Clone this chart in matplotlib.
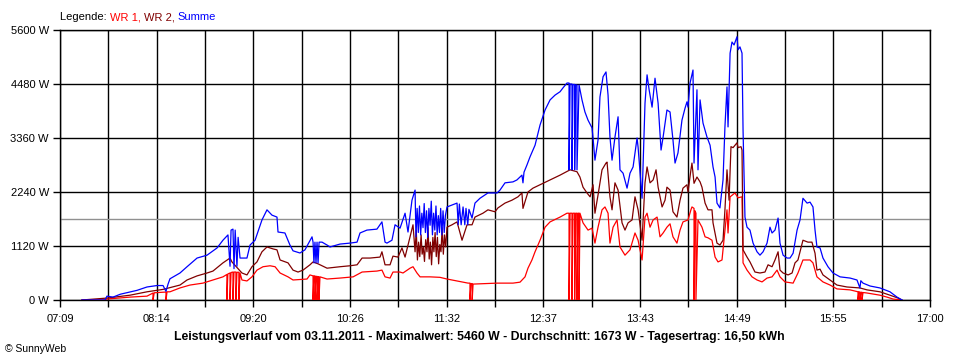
import numpy as np
import matplotlib
matplotlib.use("Agg")
import matplotlib.pyplot as plt

# ---------------- data (time in minutes since midnight, power in W) ----------------
x_tick_labels = ["07:09", "08:14", "09:20", "10:26", "11:32", "12:37", "13:43", "14:49", "15:55", "17:00"]
y_ticks = [0, 1120, 2240, 3360, 4480, 5600]
average_w = 1673

t_wr1 = [443.9, 459.6, 460.9, 476.6, 488.1, 492.2, 492.2, 493.0, 501.0, 501.0, 501.7, 503.7, 510.5, 517.3,
         526.1, 532.9, 539.7, 542.4, 542.4, 543.0, 544.5, 544.5, 545.2, 546.5, 546.5, 547.2, 548.5, 548.5,
         549.2, 550.5, 550.5, 551.3, 552.6, 556.0, 559.4, 562.8, 566.9, 571.7, 575.1, 578.5, 583.9, 587.3,
         596.8, 598.8, 600.9, 600.9, 601.5, 602.2, 602.2, 602.9, 603.6, 603.6, 604.3, 604.9, 604.9, 605.6,
         610.4, 619.2, 628.1, 634.2, 644.3, 647.7, 649.8, 653.2, 655.2, 660.0, 662.0, 666.8, 668.8, 671.5,
         673.6, 680.3, 687.1, 691.9, 698.7, 706.2, 707.5, 707.5, 708.2, 709.0, 709.0, 709.6, 725.9, 736.7,
         741.5, 744.9, 746.9, 749.6, 751.7, 753.7, 755.1, 758.5, 761.9, 768.7, 773.4, 774.8, 774.8, 775.5,
         776.8, 776.8, 777.5, 778.6, 778.6, 779.3, 780.2, 780.2, 780.9, 781.6, 781.6, 782.2, 784.3, 787.7,
         790.4, 792.4, 794.5, 797.2, 799.2, 801.3, 802.6, 804.7, 807.4, 809.4, 812.8, 816.2, 819.6, 821.7,
         824.4, 826.4, 827.8, 829.8, 831.9, 834.6, 836.6, 838.7, 841.3, 843.4, 845.4, 848.1, 850.2, 852.2,
         855.6, 857.6, 858.3, 859.7, 859.7, 860.3, 861.0, 861.0, 862.4, 865.1, 867.2, 869.2, 871.9, 874.0,
         876.0, 878.7, 880.7, 882.1, 882.8, 884.2, 887.5, 889.6, 892.3, 893.0, 895.7, 899.1, 902.5, 905.9,
         909.3, 912.7, 916.1, 918.1, 921.5, 927.0, 930.3, 933.7, 938.5, 940.5, 943.2, 947.3, 952.1, 956.8,
         965.7, 971.1, 971.1, 971.7, 972.4, 972.4, 973.1, 973.8, 973.8, 974.5, 977.2, 986.0, 990.8, 994.9,
         1000.6]
p_wr1 = [0, 0, 20, 60, 80, 145, 0, 150, 165, 0, 170, 170, 250, 310,
         350, 415, 480, 530, 0, 540, 560, 0, 570, 580, 0, 580, 580, 0,
         575, 575, 0, 560, 415, 395, 480, 620, 690, 710, 690, 560, 480, 415,
         435, 520, 500, 0, 500, 500, 0, 490, 490, 0, 485, 480, 0, 480,
         435, 455, 480, 580, 600, 620, 480, 455, 580, 580, 560, 660, 690, 560,
         480, 480, 470, 435, 395, 350, 350, 0, 340, 340, 0, 330, 350, 350,
         370, 480, 660, 830, 1000, 1140, 1240, 1510, 1620, 1720, 1800, 1800, 0, 1800,
         1800, 0, 1800, 1800, 0, 1800, 1800, 0, 1800, 1800, 0, 1800, 1600, 1450,
         1490, 1180, 1510, 1870, 1930, 1800, 1180, 1510, 1660, 1100, 930, 1040, 1390, 1240,
         830, 1720, 1800, 1510, 1660, 1720, 1310, 1390, 1510, 1580, 1310, 1180, 1450, 1620,
         1660, 1870, 1930, 1900, 0, 1850, 1800, 0, 1660, 1510, 1310, 1290, 1240, 890,
         790, 830, 1450, 1870, 1390, 2140, 2220, 2120, 2140, 770, 620, 480, 415, 375,
         455, 480, 620, 480, 375, 350, 560, 830, 830, 770, 480, 375, 310, 230,
         210, 170, 0, 170, 165, 0, 160, 160, 0, 155, 145, 100, 60, 20,
         0]

t_wr2 = [443.9, 460.9, 476.6, 488.1, 499.0, 510.5, 515.3, 522.1, 528.9, 532.9, 539.7, 544.5, 545.8, 552.6,
         556.0, 559.4, 562.8, 566.2, 569.6, 573.7, 576.4, 578.5, 583.9, 587.3, 590.7, 594.1, 598.8, 600.9,
         604.3, 610.4, 619.2, 626.0, 630.8, 634.2, 639.6, 646.4, 647.7, 649.8, 653.2, 655.2, 658.6, 661.3,
         663.4, 666.8, 668.8, 670.2, 671.0, 671.8, 672.6, 673.4, 674.3, 675.0, 675.8, 676.6, 677.4, 678.3,
         679.0, 679.8, 680.6, 681.4, 682.3, 683.0, 683.8, 684.6, 685.4, 686.2, 687.0, 687.8, 688.6, 689.4,
         690.2, 691.0, 691.9, 695.3, 698.7, 702.1, 705.5, 708.9, 710.9, 716.3, 719.7, 724.5, 726.5, 731.3,
         736.0, 740.1, 742.8, 743.5, 746.9, 750.3, 755.1, 761.9, 768.7, 775.5, 780.2, 782.2, 784.3, 787.0,
         789.1, 791.1, 792.4, 794.5, 797.2, 799.9, 800.6, 802.6, 804.0, 806.0, 808.1, 810.8, 812.8, 814.9,
         817.6, 819.6, 821.7, 824.4, 826.4, 827.8, 829.8, 831.9, 833.9, 835.3, 838.0, 840.0, 841.3, 843.4,
         845.4, 848.1, 850.2, 852.2, 854.9, 855.6, 857.6, 858.3, 859.7, 861.7, 863.8, 865.1, 867.2, 869.2,
         871.9, 872.6, 875.3, 877.3, 879.4, 880.7, 882.1, 883.5, 884.8, 886.2, 888.9, 889.6, 891.6, 892.3,
         893.0, 895.7, 897.7, 901.1, 904.5, 907.9, 910.0, 912.7, 914.7, 916.8, 918.1, 920.2, 923.6, 926.3,
         928.3, 930.3, 933.7, 937.1, 939.8, 941.9, 943.2, 945.3, 947.3, 952.1, 956.8, 963.6, 972.4, 977.2,
         986.0, 992.8, 998.3, 1001.0]
p_wr2 = [0, 40, 100, 170, 220, 310, 415, 500, 560, 600, 770, 870, 790, 560,
         520, 690, 790, 1000, 1100, 1060, 1040, 830, 770, 620, 580, 620, 730, 790,
         750, 660, 690, 710, 730, 870, 870, 890, 1000, 730, 730, 910, 890, 1080,
         890, 1310, 1560, 1000, 1450, 830, 1200, 900, 1350, 950, 1100, 800, 1250, 1000,
         1500, 850, 1200, 730, 1300, 1000, 1400, 900, 1300, 750, 1150, 1000, 1500, 950,
         1350, 1100, 1510, 1560, 1620, 1240, 1560, 1560, 1720, 1800, 1870, 1830, 1910, 2010,
         2070, 2140, 2220, 1900, 2240, 2320, 2390, 2490, 2590, 2700, 2660, 2550, 2340, 2220,
         2140, 2390, 1800, 2180, 2700, 2840, 2860, 2140, 1870, 2430, 2280, 1600, 1450, 1600,
         1660, 2140, 1870, 1240, 2430, 2760, 2430, 2490, 2700, 2340, 1930, 2070, 2340, 2280,
         1830, 1720, 2070, 2320, 2390, 2240, 2700, 2840, 2420, 2550, 2450, 2340, 2010, 1870,
         1870, 1600, 1180, 1140, 1240, 1870, 2700, 2070, 3180, 3160, 3260, 3160, 3180, 3110,
         1040, 890, 790, 580, 560, 580, 730, 690, 830, 1000, 620, 560, 520, 560,
         770, 830, 1240, 1200, 1200, 970, 620, 640, 520, 415, 310, 270, 250, 210,
         170, 100, 40, 0]

t_sum = [443.9, 459.6, 460.9, 465.0, 470.0, 481.3, 488.1, 494.9, 499.0, 501.0, 502.4, 503.7, 510.5, 515.3,
         522.1, 528.9, 535.7, 539.7, 543.1, 544.5, 545.2, 546.5, 547.2, 548.0, 549.2, 550.0, 551.3, 552.6,
         556.0, 558.1, 561.5, 566.2, 569.6, 573.0, 576.4, 577.1, 581.8, 585.2, 587.3, 592.0, 595.4, 600.2,
         600.9, 601.5, 602.2, 602.9, 603.6, 604.3, 605.0, 607.0, 610.4, 612.4, 619.2, 626.0, 630.8, 632.8,
         637.5, 644.3, 647.7, 649.8, 651.1, 654.5, 656.6, 660.0, 663.4, 665.4, 668.1, 670.2, 670.8, 671.6,
         672.4, 673.2, 674.0, 674.8, 675.6, 676.4, 677.2, 678.0, 678.8, 679.6, 680.4, 681.2, 682.0, 682.8,
         683.6, 684.4, 685.2, 686.0, 686.8, 687.6, 688.4, 689.2, 690.0, 690.8, 691.9, 695.3, 698.7, 699.5,
         700.3, 701.5, 702.8, 704.0, 704.8, 706.0, 706.8, 708.9, 710.9, 714.3, 719.7, 725.9, 727.9, 731.3,
         736.7, 739.4, 742.8, 743.5, 744.2, 746.2, 748.3, 751.7, 755.1, 758.5, 761.9, 765.3, 768.7, 770.7,
         773.4, 774.8, 774.8, 775.5, 776.8, 776.8, 777.5, 778.6, 778.6, 779.3, 780.2, 780.2, 781.6, 783.6,
         785.6, 787.7, 790.4, 791.1, 792.4, 794.5, 795.8, 797.9, 799.9, 801.3, 802.6, 804.0, 806.0, 808.1,
         809.4, 811.5, 814.2, 816.2, 818.3, 821.0, 821.7, 824.4, 826.4, 827.8, 829.2, 831.2, 833.2, 835.3,
         837.3, 838.7, 841.3, 843.4, 845.4, 846.8, 848.8, 851.5, 853.6, 854.9, 855.6, 857.0, 859.0, 859.7,
         861.7, 862.4, 863.8, 865.8, 868.5, 870.6, 872.6, 874.0, 875.3, 877.3, 879.4, 880.7, 882.1, 882.8,
         884.2, 885.5, 886.9, 888.9, 889.6, 890.9, 892.3, 893.0, 894.3, 895.7, 897.7, 899.8, 902.5, 904.5,
         906.6, 909.3, 911.3, 912.7, 914.7, 916.8, 918.1, 920.2, 922.9, 924.9, 927.0, 929.7, 931.7, 933.7,
         936.5, 938.5, 940.5, 941.9, 943.2, 945.3, 947.3, 950.7, 954.1, 958.9, 965.7, 970.4, 972.4, 973.0,
         974.5, 979.3, 986.0, 992.8, 997.6, 1001.0]
p_sum = [0, 0, 80, 60, 120, 200, 270, 300, 300, 180, 330, 440, 560, 690,
         870, 930, 1080, 1240, 1350, 700, 1450, 1470, 650, 1450, 700, 1300, 870, 870,
         870, 1140, 1240, 1660, 1870, 1760, 1720, 1410, 1390, 1140, 1020, 975, 1040, 1310,
         1200, 770, 1200, 770, 1200, 770, 1200, 1200, 1140, 1100, 1160, 1180, 1200, 1390,
         1450, 1470, 1620, 1200, 1180, 1240, 1560, 1490, 1800, 1410, 2070, 2280, 1310, 1900,
         1400, 1950, 1350, 1800, 1500, 2000, 1400, 1850, 1300, 1900, 1550, 2050, 1350, 1800,
         1450, 1950, 1350, 1750, 1400, 1900, 1350, 1850, 1400, 1750, 1930, 1970, 2010, 1560,
         1990, 1560, 1930, 1560, 1900, 1560, 1880, 1700, 2010, 2110, 2220, 2220, 2280, 2430,
         2450, 2490, 2590, 2430, 2650, 2800, 2970, 3210, 3630, 3940, 4150, 4250, 4320, 4400,
         4500, 4500, 2700, 4480, 4480, 2700, 4470, 4470, 2700, 4460, 4460, 2700, 4460, 4150,
         3900, 3730, 3570, 3360, 2900, 3320, 4210, 4630, 4730, 4250, 3380, 2900, 3380, 3800,
         2700, 2630, 2320, 2630, 2760, 3360, 3170, 2110, 4080, 4670, 4360, 4000, 4600, 4080,
         3110, 3380, 3940, 3900, 3320, 2840, 3050, 3730, 3980, 4110, 4000, 4500, 4770, 2840,
         4360, 2700, 4150, 3670, 3380, 3210, 2760, 2550, 2010, 1910, 2490, 3590, 4420, 3590,
         5120, 5350, 5290, 5460, 5190, 5250, 5120, 3530, 1720, 1510, 1450, 1180, 1000, 930,
         1000, 1180, 1510, 1390, 1450, 1700, 1180, 930, 870, 870, 970, 1450, 1660, 2110,
         2010, 2030, 1930, 1450, 1100, 1080, 870, 690, 560, 480, 455, 415, 250, 400,
         350, 290, 250, 170, 60, 0]

# ---------------- figure ----------------
fig = plt.figure(figsize=(9.6, 3.6), dpi=100)
plt.rcParams['font.family'] = ['Liberation Sans', 'DejaVu Sans']
ax = fig.add_axes([60 / 960, 60 / 360, 870 / 960, 270 / 360])

t0, t1 = 429.0, 1020.0
ax.set_xlim(t0, t1)
ax.set_ylim(0, 5600)

major = np.linspace(t0, t1, len(x_tick_labels))
minor = (major[:-1] + major[1:]) / 2
ax.set_xticks(major)
ax.set_xticklabels(x_tick_labels)
ax.set_xticks(minor, minor=True)
ax.set_yticks(y_ticks)
ax.set_yticklabels([f"{v} W" for v in y_ticks])

ax.grid(True, which='both', axis='x', color='black', linewidth=1.0, zorder=1)
ax.grid(True, which='major', axis='y', color='black', linewidth=1.0, zorder=1)
ax.set_axisbelow(True)
ax.tick_params(which='both', direction='out', length=5, width=1, color='black',
               labelsize=8, pad=3)
ax.tick_params(axis='x', which='both', pad=5)
for s in ax.spines.values():
    s.set_color('black')
    s.set_linewidth(1.0)

ax.axhline(average_w, color='#909090', linewidth=1.0, zorder=2)

ax.plot(t_wr1, p_wr1, color='#ff0000', linewidth=0.9, zorder=3)
ax.plot(t_wr2, p_wr2, color='#800000', linewidth=0.9, zorder=4)
ax.plot(t_sum, p_sum, color='#0000ff', linewidth=0.9, zorder=5)

# legend text (multi-coloured)
fig.canvas.draw()
renderer = fig.canvas.get_renderer()
parts = [("Legende: ", "black"), ("WR 1, ", "#ff0000"), ("WR 2, ", "#800000"), ("Summe", "#0000ff")]
x = 60 / 960
for txt, col in parts:
    t = fig.text(x, 1 - 17 / 360, txt, color=col, fontsize=8, ha='left', va='center')
    bb = t.get_window_extent(renderer=renderer)
    x += bb.width / 960

fig.text(479 / 960, 1 - 337 / 360,
         "Leistungsverlauf vom 03.11.2011 - Maximalwert: 5460 W - Durchschnitt: 1673 W - Tagesertrag: 16,50 kWh",
         fontsize=8.8, fontweight='bold', ha='center', va='center')
fig.text(5 / 960, 1 - 349 / 360, "© SunnyWeb", fontsize=7.5, ha='left', va='center')

fig.savefig("out.png", dpi=100, facecolor='white')
